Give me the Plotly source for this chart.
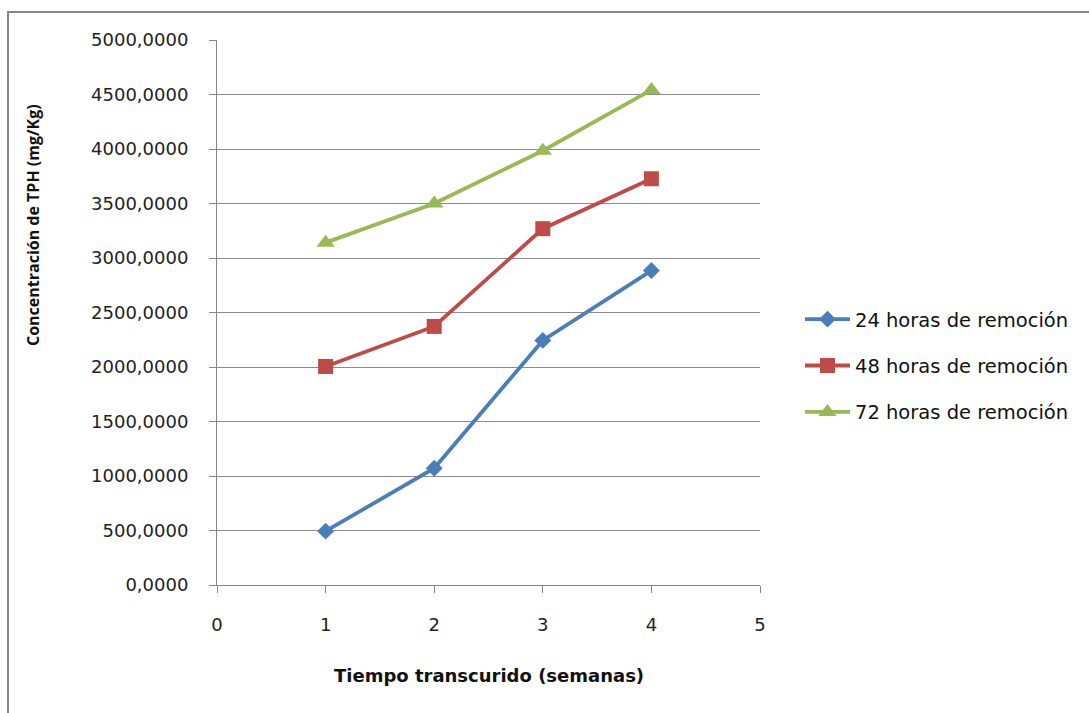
import plotly.graph_objects as go

weeks = [1, 2, 3, 4]
series_names = ["24 horas de remoción", "48 horas de remoción", "72 horas de remoción"]
tph_24h = [494, 1071, 2244, 2885]
tph_48h = [2005, 2372, 3269, 3727]
tph_72h = [3141, 3500, 3984, 4542]
y_ticks = [0, 500, 1000, 1500, 2000, 2500, 3000, 3500, 4000, 4500, 5000]
y_tick_labels = [f"{v},0000" for v in y_ticks]
x_ticks = [0, 1, 2, 3, 4, 5]

colors = ["#4A7EBB", "#BE4B48", "#98B954"]
symbols = ["diamond", "square", "triangle-up"]
sizes = [13, 15, 16]

W, H = 1089, 713
L, R, T, B = 217, 760, 40, 585

fig = go.Figure()
for i, (name, vals, c, s, sz) in enumerate(zip(series_names, [tph_24h, tph_48h, tph_72h], colors, symbols, sizes)):
    fig.add_trace(go.Scatter(
        x=weeks, y=vals, name=name, mode="lines+markers",
        legendgroup=f"g{i}",
        line=dict(color=c, width=3.8),
        marker=dict(symbol=s, size=sz, color=c, line=dict(width=0)),
    ))

font_family = "DejaVu Sans"
fig.update_layout(
    width=W, height=H,
    margin=dict(l=L, r=W - R, t=T, b=H - B),
    plot_bgcolor="white", paper_bgcolor="white",
    font=dict(family=font_family, size=16, color="#222222"),
    showlegend=True,
    legend=dict(
        x=(800 - L) / (R - L), y=1 - (366 - T) / (B - T),
        xanchor="left", yanchor="middle",
        font=dict(size=19.5, family=font_family, color="#111111"),
        itemwidth=45, tracegroupgap=18,
        bgcolor="rgba(0,0,0,0)",
    ),
    xaxis=dict(
        range=[0, 5], tickvals=x_ticks, ticktext=[str(v) for v in x_ticks],
        showgrid=False, zeroline=False,
        showline=True, linecolor="#868686", linewidth=1,
        ticks="outside", ticklen=7, tickcolor="#868686",
        tickfont=dict(size=18), ticklabelstandoff=16,
    ),
    yaxis=dict(
        range=[0, 5000], tickvals=y_ticks, ticktext=y_tick_labels,
        showgrid=True, gridcolor="#8c8c8c", gridwidth=1, zeroline=False,
        showline=True, linecolor="#868686", linewidth=1,
        ticks="outside", ticklen=7, tickcolor="#868686",
        tickfont=dict(size=18), ticklabelstandoff=17,
    ),
)

# axis titles as annotations
fig.add_annotation(
    text="<b>Concentración de TPH (mg/Kg)</b>", textangle=-90,
    xref="paper", yref="paper",
    x=(33 - L) / (R - L), y=1 - (225 - T) / (B - T),
    showarrow=False, font=dict(size=16, family="Open Sans", color="#111111"),
    xanchor="center", yanchor="middle",
)
fig.add_annotation(
    text="<b>Tiempo transcurido (semanas)</b>",
    xref="paper", yref="paper",
    x=0.5, y=-(675 - B) / (B - T),
    showarrow=False, font=dict(size=18, family=font_family, color="#111111"),
    xanchor="center", yanchor="middle",
)

# outer chart frame (top and left edges visible)
fig.add_shape(
    type="rect", xref="paper", yref="paper",
    x0=(8 - L) / (R - L), x1=(W + 20 - L) / (R - L),
    y0=-(H + 20 - B) / (B - T), y1=1 + (T - 12) / (B - T),
    line=dict(color="#868686", width=2), layer="below",
)

fig.write_html("out.html")
